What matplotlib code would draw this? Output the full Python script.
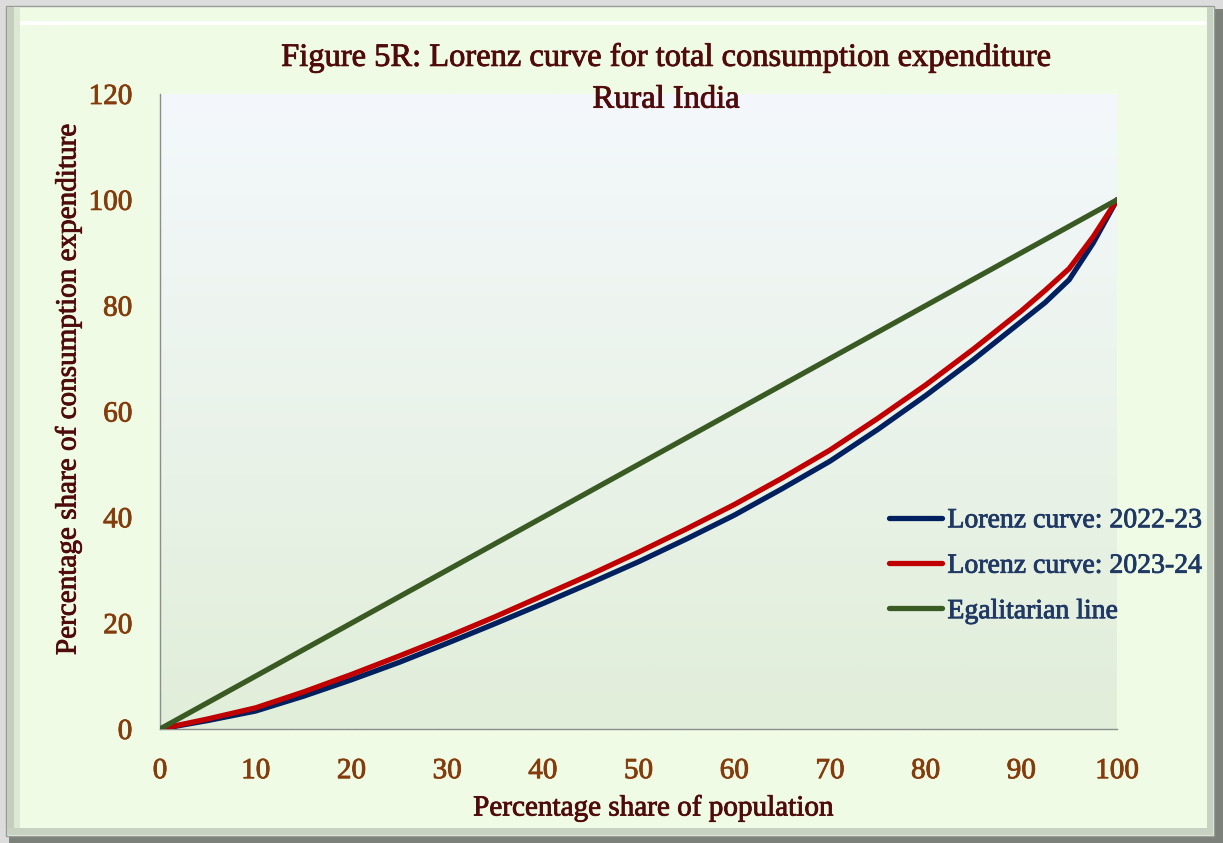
import numpy as np
import matplotlib
matplotlib.use("Agg")
import matplotlib.pyplot as plt
from matplotlib.patches import Rectangle
import matplotlib.patheffects as pe

# ---- data ----
pop_share = [0, 5, 10, 15, 20, 25, 30, 35, 40, 45, 50, 55, 60, 65, 70, 75, 80, 85, 90, 92.5, 95, 97.5, 100]
lorenz_2022_23 = [0, 1.6, 3.4, 6.2, 9.3, 12.6, 16.2, 19.9, 23.7, 27.6, 31.6, 35.9, 40.4, 45.4,
                  50.6, 56.6, 63.0, 69.8, 77.0, 80.6, 84.9, 91.8, 100]
lorenz_2023_24 = [0, 1.9, 4.0, 7.0, 10.3, 13.8, 17.4, 21.2, 25.2, 29.2, 33.4, 37.8, 42.4, 47.4,
                  52.7, 58.7, 65.0, 71.8, 79.0, 82.9, 87.0, 93.0, 100]
egal_x = [0, 100]
egal_y = [0, 100]
series_labels = ["Lorenz curve: 2022-23", "Lorenz curve: 2023-24", "Egalitarian line"]
x_ticks = [0, 10, 20, 30, 40, 50, 60, 70, 80, 90, 100]
y_ticks = [0, 20, 40, 60, 80, 100, 120]
title_text = "Figure 5R: Lorenz curve for total consumption expenditure\nRural India"
xlabel_text = "Percentage share of population"
ylabel_text = "Percentage share of consumption expenditure"

W, H = 1223, 843
fig = plt.figure(figsize=(W / 100, H / 100), dpi=100)
fig.patch.set_facecolor("#DCDCDC")

def frect(x0, y0, x1, y1, **kw):
    # pixel coords (top-left origin) -> figure fraction
    r = Rectangle((x0 / W, 1 - y1 / H), (x1 - x0) / W, (y1 - y0) / H,
                  transform=fig.transFigure, **kw)
    fig.add_artist(r)

# frame with shadow and bevel
frect(9, 9, 1223, 843, facecolor="#7C8279", edgecolor="none", zorder=-10)
frect(6, 6, 1214, 836, facecolor="#EFFBE5", edgecolor="#9A9A9A", linewidth=1.0, zorder=-9)
frect(7, 7, 14, 835, facecolor="#C3CFBB", edgecolor="none", zorder=-8)
frect(14, 7, 20, 835, facecolor="#DCE8D3", edgecolor="none", zorder=-8)
frect(20, 21, 1206, 25, facecolor="#FFFFFF", edgecolor="none", zorder=-8)
frect(1207, 7, 1213, 835, facecolor="#C8D2C2", edgecolor="none", zorder=-8)
frect(7, 828, 1213, 835, facecolor="#C8D2C2", edgecolor="none", zorder=-8)

serif = ["Liberation Serif", "DejaVu Serif"]

def thick(color):
    return [pe.withStroke(linewidth=0.6, foreground=color)]

ax = fig.add_axes([160 / W, 1 - 729 / H, (1117 - 160) / W, (729 - 94) / H])
ax.set_facecolor("none")

# gradient background
top = np.array([0xF4, 0xF8, 0xFC]) / 255
bot = np.array([0xE1, 0xEE, 0xD9]) / 255
t = np.linspace(0, 1, 256)[:, None]
grad = (top[None, :] * (1 - t) + bot[None, :] * t)[:, None, :]
ax.imshow(grad, extent=[0, 1, 0, 1], transform=ax.transAxes, aspect="auto", zorder=0)

lw = 3.8
kw = dict(lw=lw, solid_capstyle="round", solid_joinstyle="round")
l1, = ax.plot(pop_share, lorenz_2022_23, color="#002060", zorder=3, **kw)
l2, = ax.plot(pop_share, lorenz_2023_24, color="#C00000", zorder=4, **kw)
l3, = ax.plot(egal_x, egal_y, color="#3A5A24", zorder=5, **kw)

ax.set_xlim(0, 100)
ax.set_ylim(0, 120)
ax.set_xticks(x_ticks)
ax.set_yticks(y_ticks)
tick_color = "#843C0C"
ax.tick_params(length=0, labelsize=21, labelcolor=tick_color)
ax.tick_params(axis="y", pad=20)
ax.tick_params(axis="x", pad=21)
for lab in ax.get_xticklabels() + ax.get_yticklabels():
    lab.set_family(serif)
    lab.set_path_effects(thick(tick_color))
for s in ["top", "right"]:
    ax.spines[s].set_visible(False)
for s in ["left", "bottom"]:
    ax.spines[s].set_color("#8C8C8C")
    ax.spines[s].set_linewidth(1.0)

label_color = "#4F0B0B"
fig.text(666 / W, 1 - 79 / H, title_text, ha="center", va="center", fontsize=23.4,
         color=label_color, family=serif, linespacing=1.58, path_effects=thick(label_color))
fig.text(653 / W, 1 - 808 / H, xlabel_text, ha="center", va="center", fontsize=21,
         color=label_color, family=serif, path_effects=thick(label_color))
fig.text(68 / W, 1 - 390 / H, ylabel_text, ha="center", va="center", fontsize=21,
         color=label_color, family=serif, rotation=90, path_effects=thick(label_color))

leg = fig.legend([l1, l2, l3], series_labels, loc="center left",
                 bbox_to_anchor=(878 / W, 1 - 566 / H), frameon=False,
                 prop={"family": serif, "size": 20}, handlelength=1.9,
                 handletextpad=0.2, labelspacing=0.72, borderaxespad=0)
leg_color = "#1F3864"
for txt in leg.get_texts():
    txt.set_color(leg_color)
    txt.set_path_effects(thick(leg_color))

fig.savefig("out.png", dpi=100, facecolor=fig.get_facecolor())
